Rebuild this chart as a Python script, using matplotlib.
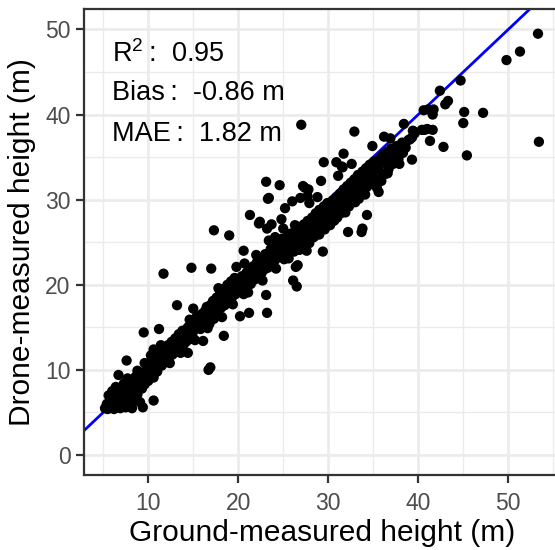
import numpy as np
import matplotlib
matplotlib.use("Agg")
import matplotlib.pyplot as plt
from matplotlib.ticker import MultipleLocator

plt.rcParams['font.family'] = ['Liberation Sans', 'DejaVu Sans']
plt.rcParams['mathtext.fontset'] = 'custom'
plt.rcParams['mathtext.rm'] = 'Liberation Sans'

# ground-measured vs drone-measured tree heights (m)
ground_low = [5.2, 5.4, 5.5, 5.6, 5.8, 5.9, 6.0, 6.1, 6.2, 6.3, 6.4, 6.5, 6.6, 6.8, 6.9, 7.0,
              7.1, 7.2, 7.3, 7.4, 7.5, 7.6, 7.7, 7.8, 7.9, 8.0, 8.1, 8.2, 8.3, 8.4, 8.5, 8.6,
              8.7, 8.8, 9.0, 9.1, 9.2, 9.3, 9.4, 9.5, 9.6, 9.8, 9.9, 10.0, 6.7, 7.6, 10.6, 9.6]
drone_low = [5.5, 6.0, 5.4, 7.0, 6.4, 5.6, 7.5, 6.2, 5.4, 6.8, 8.0, 5.9, 7.2, 6.5, 5.5, 7.8,
             6.9, 6.0, 8.4, 7.3, 5.6, 6.6, 9.0, 7.7, 6.2, 8.1, 7.0, 5.5, 8.6, 7.5, 6.4, 9.2,
             8.0, 7.1, 8.5, 6.2, 9.6, 7.8, 5.6, 9.0, 8.3, 10.1, 9.2, 8.7, 9.4, 11.1, 6.4, 10.8]

ground_10 = [10.1, 10.2, 10.4, 10.5, 10.6, 10.8, 10.9, 11.0, 11.2, 11.3, 11.5, 11.6, 11.8, 11.9,
             12.0, 12.2, 12.3, 12.5, 12.6, 12.7, 12.9, 13.0, 13.1, 13.3, 13.4, 13.5, 13.7, 13.8,
             13.9, 14.1, 14.2, 14.4, 14.5, 14.6, 14.8, 14.9,
             9.5, 11.2, 10.6, 14.4, 11.7, 14.8, 13.2, 15.0, 14.6]
drone_10 = [10.6, 9.5, 10.0, 11.2, 9.1, 10.4, 11.6, 9.8, 10.9, 12.0, 10.5, 11.4, 12.4, 10.9,
            11.8, 12.9, 11.3, 12.3, 13.3, 11.8, 12.7, 13.7, 12.2, 13.1, 14.2, 12.6, 13.6, 14.6,
            12.9, 14.0, 13.3, 15.0, 14.4, 13.6, 15.4, 14.2,
            14.4, 14.8, 12.4, 12.0, 21.3, 22.0, 17.6, 17.2, 15.9]

ground_15 = [15.0, 15.1, 15.3, 15.4, 15.5, 15.7, 15.8, 16.0, 16.1, 16.3, 16.4, 16.5, 16.7, 16.8,
             16.9, 17.1, 17.2, 17.3, 17.5, 17.6, 17.7, 17.9, 18.0, 18.1, 18.3, 18.4, 18.5, 18.7,
             18.8, 18.9, 19.1, 19.2, 19.3, 19.5, 19.6, 19.7, 19.9,
             16.7, 16.9, 16.1, 18.4, 17.0, 17.3, 19.0, 19.8]
drone_15 = [14.6, 15.8, 14.9, 16.3, 15.2, 16.0, 14.8, 16.6, 15.5, 16.9, 15.9, 17.4, 16.3, 15.4,
            17.6, 16.7, 18.1, 16.0, 17.2, 18.5, 16.8, 17.9, 19.0, 17.3, 18.4, 19.5, 17.6, 18.8,
            20.0, 18.1, 19.3, 20.4, 18.5, 19.8, 20.8, 18.9, 20.2,
            10.0, 10.3, 13.4, 14.0, 21.9, 26.4, 25.8, 22.1]

ground_20 = [20.0, 20.1, 20.2, 20.4, 20.5, 20.6, 20.8, 20.9, 21.0, 21.2, 21.3, 21.4, 21.6, 21.7,
             21.8, 22.0, 22.1, 22.2, 22.4, 22.5, 22.6, 22.8, 22.9, 23.0, 23.2, 23.3, 23.5, 23.6,
             23.7, 23.9, 24.0, 24.1, 24.3, 24.4, 24.5, 24.7, 24.8, 24.9,
             20.2, 21.2, 23.1, 23.2, 20.6, 21.3, 22.3, 22.4, 23.3, 23.1, 24.6, 23.4, 23.7, 24.8,
             23.2, 24.1]
drone_20 = [19.2, 20.6, 19.6, 21.0, 20.0, 18.9, 20.5, 21.4, 19.7, 20.9, 21.8, 20.1, 21.3, 22.2,
            20.6, 21.7, 22.7, 21.0, 22.1, 23.1, 21.4, 22.5, 21.8, 23.6, 22.9, 22.0, 23.3, 24.2,
            22.5, 23.7, 24.6, 22.9, 24.0, 25.0, 23.3, 24.4, 25.4, 23.8,
            16.3, 16.7, 18.8, 16.7, 24.0, 28.2, 27.2, 27.4, 30.1, 32.1, 31.7, 30.2, 27.1, 27.7,
            26.6, 25.6]

ground_25 = [25.0, 25.1, 25.3, 25.4, 25.5, 25.7, 25.8, 25.9, 26.1, 26.2, 26.3, 26.5, 26.6, 26.7,
             26.9, 27.0, 27.1, 27.3, 27.4, 27.5, 27.7, 27.8, 27.9, 28.1, 28.2, 28.3, 28.5, 28.6,
             28.7, 28.9, 29.0, 29.1, 29.3, 29.4, 29.5, 29.7, 29.8, 29.9,
             26.4, 27.6, 26.1, 26.5, 26.6, 27.0, 27.2, 27.8, 26.9, 26.0, 25.2, 26.3, 27.7, 29.2,
             29.4, 29.5, 27.4]
drone_25 = [24.2, 23.0, 24.7, 25.6, 23.6, 24.9, 26.0, 24.1, 25.3, 23.9, 26.3, 24.7, 25.8, 26.8,
            25.0, 26.2, 24.5, 27.1, 25.6, 26.6, 27.5, 25.9, 24.9, 27.0, 27.9, 26.2, 27.4, 28.4,
            26.6, 27.8, 28.8, 26.9, 28.2, 27.3, 29.2, 28.6, 27.6, 29.6,
            22.1, 24.0, 20.5, 19.8, 22.3, 38.8, 31.6, 31.2, 30.2, 29.8, 29.0, 27.0, 30.4, 32.2,
            23.9, 34.4, 31.4]

ground_30 = [30.0, 30.1, 30.2, 30.4, 30.5, 30.6, 30.8, 30.9, 31.0, 31.2, 31.3, 31.4, 31.6, 31.7,
             31.8, 32.0, 32.1, 32.3, 32.4, 32.5, 32.7, 32.8, 32.9, 33.1, 33.2, 33.3, 33.5, 33.6,
             33.8, 33.9, 34.0, 34.2, 34.3, 34.5, 34.6, 34.8,
             30.9, 31.6, 31.7, 32.9, 34.3, 32.2, 33.7, 33.8, 31.5]
drone_30 = [28.0, 29.4, 27.0, 28.5, 29.9, 27.5, 28.9, 30.3, 27.9, 29.4, 30.7, 28.4, 29.8, 31.2,
            28.8, 30.2, 31.6, 29.2, 30.7, 32.0, 29.7, 31.1, 32.4, 30.1, 31.5, 32.9, 30.6, 32.0,
            33.3, 31.0, 32.4, 33.7, 31.5, 32.8, 34.1, 31.9,
            34.4, 33.8, 35.4, 38.0, 28.2, 26.2, 26.2, 26.6, 33.9]

ground_35 = [35.0, 35.1, 35.3, 35.4, 35.6, 35.6, 35.8, 36.0, 36.1, 36.3, 36.4, 36.5, 36.7, 36.9,
             37.0, 37.2, 37.4, 37.6, 37.8, 38.0, 38.2, 38.3, 38.6, 38.9, 39.1, 39.3, 39.4, 39.6,
             36.9, 39.3, 39.5]
drone_35 = [33.3, 34.5, 32.4, 31.4, 30.9, 33.8, 34.9, 33.0, 35.3, 33.0, 34.3, 35.6, 33.6, 35.0,
            36.0, 34.2, 35.4, 36.3, 34.8, 35.8, 36.7, 35.5, 36.1, 37.0, 37.1, 34.7, 38.1, 37.8,
            37.2, 37.3, 38.0]

ground_40 = [40.4, 40.7, 41.0, 41.6, 41.3, 42.8, 40.6, 41.1, 41.6, 41.7, 43.0, 43.3, 42.4, 44.7,
             45.1, 47.2, 45.0, 45.4, 49.8, 51.3, 53.3, 53.4]
drone_40 = [38.2, 38.2, 38.3, 38.2, 36.9, 36.2, 40.5, 40.6, 40.0, 40.6, 41.2, 41.6, 42.8, 44.0,
            40.3, 40.2, 39.0, 35.2, 46.4, 47.4, 49.5, 36.8]

# extra points that widen the main band
ground_band = [12.4, 13.6, 15.2, 16.6, 18.2, 19.4, 21.1, 22.7, 24.2, 25.6, 26.8, 28.4, 29.6,
               30.7, 31.9, 33.0, 34.1, 35.2, 36.6, 37.9, 8.8, 10.3, 11.4, 17.8, 20.7, 23.4,
               27.9, 32.6, 34.9, 36.2, 38.4, 22.0, 25.0, 28.8, 31.1, 29.0, 33.4, 35.9]
drone_band = [10.8, 12.0, 13.5, 14.9, 16.2, 17.7, 19.1, 20.5, 21.9, 23.1, 24.1, 25.6, 26.5,
              27.6, 28.5, 29.7, 30.6, 31.8, 33.1, 34.2, 9.9, 11.7, 12.9, 19.6, 22.5, 25.2,
              29.6, 34.2, 36.3, 37.4, 38.9, 23.5, 26.6, 30.3, 32.8, 25.9, 30.1, 32.2]

stats_labels = [r'$\mathregular{R^2}$' + '\u2009:  0.95', 'Bias\u2009:  -0.86 m',
                'MAE\u2009:  1.82 m']

ground = np.array(ground_low + ground_10 + ground_15 + ground_20 + ground_25
                  + ground_30 + ground_35 + ground_40 + ground_band)
drone = np.array(drone_low + drone_10 + drone_15 + drone_20 + drone_25
                 + drone_30 + drone_35 + drone_40 + drone_band)

fig = plt.figure(figsize=(5.55, 5.5), dpi=100)
# panel runs slightly past the right edge like the reference crop
ax = fig.add_axes([84.3 / 555, 1 - 475 / 550, (560.5 - 84.3) / 555, (475 - 9) / 550])

ax.set_xlim(2.9, 55.8)
ax.set_ylim(-2.35, 52.4)
ax.xaxis.set_major_locator(MultipleLocator(10))
ax.xaxis.set_minor_locator(MultipleLocator(5))
ax.yaxis.set_major_locator(MultipleLocator(10))
ax.yaxis.set_minor_locator(MultipleLocator(5))
ax.set_xticks([10, 20, 30, 40, 50])

ax.grid(True, which='major', color='#EBEBEB', lw=1.9, zorder=0)
ax.grid(True, which='minor', color='#EBEBEB', lw=0.95, zorder=0)
ax.set_axisbelow(True)

ax.axline((0, 0), slope=1, color='blue', lw=2.0, zorder=2)
ax.scatter(ground, drone, s=55, color='black', edgecolors='none', zorder=3)

for sp in ax.spines.values():
    sp.set_color('#333333')
    sp.set_linewidth(1.6)

ax.tick_params(which='major', length=5.8, width=1.6, color='#333333',
               labelsize=16.5, labelcolor='#4D4D4D')
ax.tick_params(axis='x', which='major', pad=6.5)
ax.tick_params(axis='y', which='major', pad=4.0)
ax.tick_params(which='minor', length=0)

for lab, ytxt in zip(stats_labels, [46.2, 41.7, 36.9]):
    ax.text(6.0, ytxt, lab, fontsize=19.5, ha='left', va='baseline', color='black')

fig.text(322 / 555, 1 - 533 / 550, 'Ground-measured height (m)', fontsize=21.5,
         ha='center', va='center')
fig.text(22 / 555, 1 - 242 / 550, 'Drone-measured height (m)', fontsize=21.5,
         ha='center', va='center', rotation=90)

fig.savefig('out.png', dpi=100)
